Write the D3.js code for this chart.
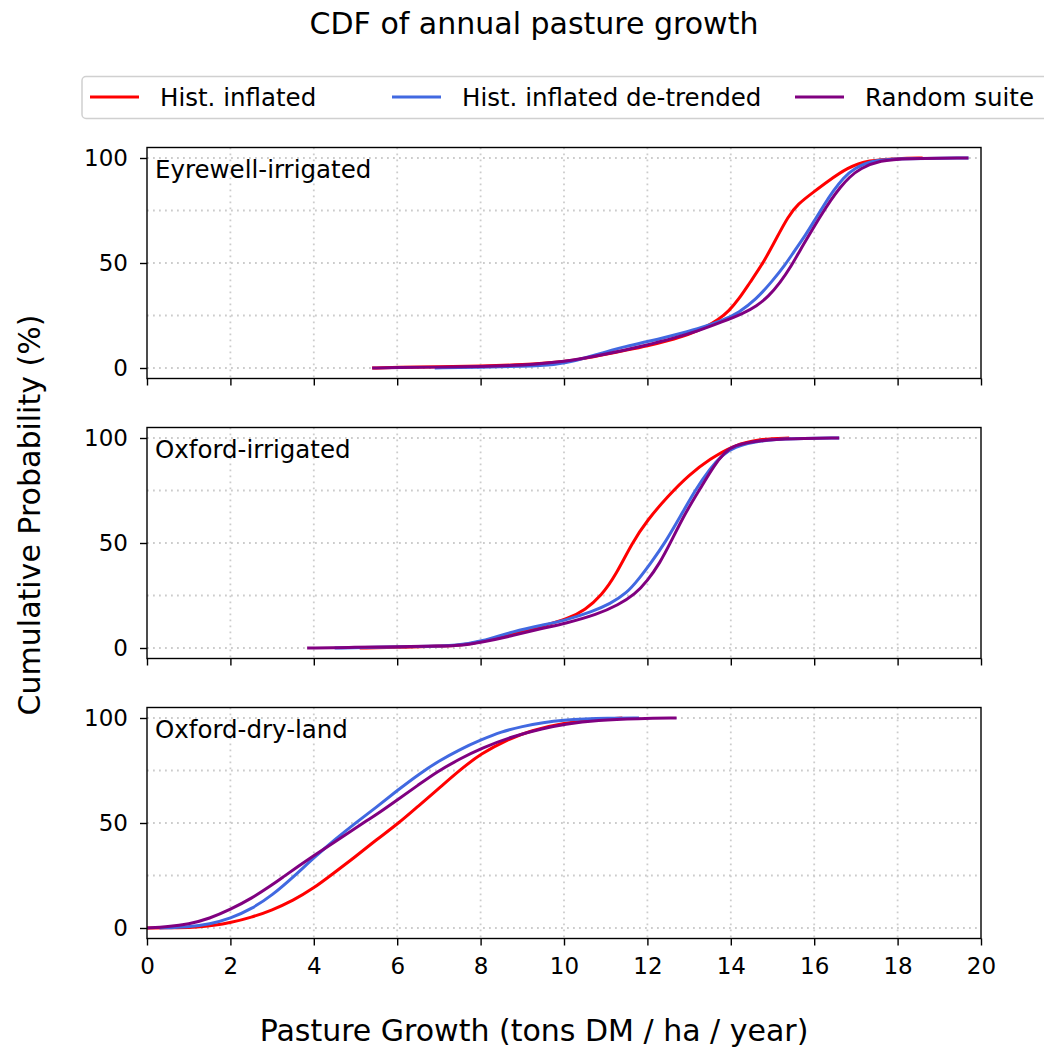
<!DOCTYPE html>
<html>
<head>
<meta charset="utf-8">
<script src="https://cdn.jsdelivr.net/npm/d3@7"></script>
<style>
  html, body { margin: 0; padding: 0; background: #fff; }
  svg { display: block; font-family: "DejaVu Sans", sans-serif; }
</style>
</head>
<body>
<svg id="chart" width="1044" height="1056"></svg>
<script>
// Pasture growth (t DM/ha/yr) vs cumulative probability (%), per site and series
const sites = ["Eyrewell-irrigated", "Oxford-irrigated", "Oxford-dry-land"];
const seriesNames = ["Hist. inflated", "Hist. inflated de-trended", "Random suite"];
const seriesColors = ["#ff0000", "#4169e1", "#800080"];

const eyrewellHist = [[5.4,0],[6,0.3],[7,0.6],[8,0.9],[9,1.5],[10,3],[10.5,4.5],[11,6.5],[11.5,8.5],[12,10.5],[12.5,13],[13,16],[13.4,19.5],[13.7,23],[13.95,27],[14.2,33],[14.45,40.5],[14.78,50],[15.1,62],[15.37,72],[15.6,78],[16,84],[16.3,88.5],[16.8,95.5],[17.3,99],[18,99.8],[18.6,100]];
const eyrewellDetrended = [[6.9,0],[8,0.4],[9,0.8],[9.8,1.5],[10.3,3.5],[10.8,6.5],[11.4,10],[12,12.5],[12.6,15.5],[13.2,18.5],[13.8,22.5],[14.2,26.5],[14.6,32.5],[15.0,41.5],[15.3,49],[15.5,55],[15.8,63.5],[16,70],[16.23,77.5],[16.46,84.5],[16.7,90.5],[16.94,95],[17.42,99],[18,99.7],[19.7,100]];
const eyrewellRandom = [[5.4,0],[6,0.2],[7,0.4],[8,0.7],[9,1.3],[10,2.8],[11,6.5],[12,11],[12.6,14],[13.2,17.5],[13.8,22],[14.3,26],[14.62,29.5],[14.9,34],[15.18,40.5],[15.45,48.5],[15.66,56],[15.9,64],[16.14,72],[16.4,80],[16.62,86],[16.85,91],[17.1,95],[17.58,99],[18.2,99.8],[19.7,100]];

const oxfordIrrHist = [[5.1,0],[6,0.3],[7,0.8],[7.5,1.3],[8,2.8],[8.8,7],[9.5,10.5],[10.1,14],[10.5,18],[10.9,25],[11.25,35],[11.63,50],[12.0,61],[12.5,72.5],[13.0,82.5],[13.5,90],[14.06,96.5],[14.7,99.6],[15.4,100]];
const oxfordIrrDetrended = [[4.5,0],[5.5,0.3],[6.5,0.6],[7.5,1.3],[8,3],[8.8,8],[9.5,11],[10,13],[10.7,17.5],[11.1,21],[11.5,26],[11.8,33],[12.1,41],[12.42,50],[12.8,63],[13.14,75],[13.5,85.5],[13.8,92],[14.06,95.5],[14.7,99],[15.5,99.7],[16.6,100]];
const oxfordIrrRandom = [[3.84,0],[5,0.3],[6,0.6],[7,0.9],[7.6,1.3],[8,2.6],[8.8,6],[9.5,9.5],[10,11.5],[10.8,16],[11.3,20.5],[11.7,25.5],[12.0,32],[12.3,40.5],[12.55,50],[12.9,64],[13.27,76],[13.6,87],[13.85,93],[14.06,96.5],[14.7,99],[15.5,99.7],[16.6,100]];

const dryHist = [[0,0],[0.8,0.1],[1.2,0.4],[1.6,1.2],[2,2.5],[2.5,5],[3,8.5],[3.5,13],[4,19],[4.4,25],[5,34],[5.5,42],[6.04,50],[6.5,58],[7,66.5],[7.49,75],[8,83],[8.67,90],[9.2,94],[10,97.7],[10.8,99.3],[11.4,100]];
const dryDetrended = [[0.3,0],[1,0.5],[1.5,1.8],[2,4.5],[2.5,9],[3,15.5],[3.55,25],[4,33.5],[4.5,42],[5,50],[5.5,57.5],[6,65.5],[6.57,74],[7,79.5],[7.5,85],[8,89.5],[8.5,93.5],[9,96],[9.5,97.8],[10,99],[10.5,99.6],[11,99.9],[11.8,100]];
const dryRandom = [[0,0],[0.5,0.6],[1,1.8],[1.5,4.5],[2,8.8],[2.5,14],[3,20.5],[3.28,24.5],[3.6,29],[4,34.5],[4.5,41],[5,47.5],[5.26,51],[5.5,54],[6,61],[6.5,68],[6.96,74.5],[7.5,80.5],[8,85.5],[8.8,91.5],[9.5,95],[10,97],[10.8,99],[11.8,99.8],[12.7,100]];

const siteData = [
  [eyrewellHist, eyrewellDetrended, eyrewellRandom],
  [oxfordIrrHist, oxfordIrrDetrended, oxfordIrrRandom],
  [dryHist, dryDetrended, dryRandom]
];

const xTicks = [0, 2, 4, 6, 8, 10, 12, 14, 16, 18, 20];
const yTicks = [0, 50, 100];
const yGrid = [0, 25, 50, 75, 100];

const svg = d3.select("#chart");
const left = 147, right = 981;
const panelTops = [147.5, 427.5, 707.5];
const panelH = 231;

const x = d3.scaleLinear().domain([0, 20]).range([left, right]);

// Title
svg.append("text").attr("x", 534).attr("y", 34).attr("text-anchor", "middle")
  .attr("font-size", 30).attr("fill", "#000").text("CDF of annual pasture growth");

// Legend
const lg = svg.append("g");
lg.append("rect").attr("x", 82).attr("y", 76.5).attr("width", 1000).attr("height", 42)
  .attr("rx", 4).attr("fill", "#fff").attr("stroke", "#d0d0d0").attr("stroke-width", 1.5);
const legendX = [90, 392, 795];
seriesNames.forEach((name, i) => {
  lg.append("line").attr("x1", legendX[i]).attr("x2", legendX[i] + 49)
    .attr("y1", 97).attr("y2", 97).attr("stroke", seriesColors[i]).attr("stroke-width", 3);
  lg.append("text").attr("x", legendX[i] + 70).attr("y", 106)
    .attr("font-size", 24.5).attr("fill", "#000").text(name);
});

// Smooth B-spline through the sampled CDF points
const line = d3.line().curve(d3.curveBasis);

sites.forEach((site, p) => {
  const top = panelTops[p];
  const y = d3.scaleLinear().domain([-5, 105]).range([top + panelH, top]);
  const g = svg.append("g");

  // Dotted grid
  g.append("g").selectAll("line").data(yGrid).join("line")
    .attr("x1", left).attr("x2", right).attr("y1", d => y(d)).attr("y2", d => y(d))
    .attr("stroke", "#cccccc").attr("stroke-width", 1.8).attr("stroke-dasharray", "1.8,4.2");
  g.append("g").selectAll("line").data(xTicks.slice(1, -1)).join("line")
    .attr("x1", d => x(d)).attr("x2", d => x(d)).attr("y1", top).attr("y2", top + panelH)
    .attr("stroke", "#cccccc").attr("stroke-width", 1.8).attr("stroke-dasharray", "1.8,4.2");

  // Curves
  line.x(d => x(d[0])).y(d => y(d[1]));
  siteData[p].forEach((pts, i) => {
    g.append("path").attr("d", line(pts)).attr("fill", "none")
      .attr("stroke", seriesColors[i]).attr("stroke-width", 3)
      .attr("stroke-linejoin", "round").attr("stroke-linecap", "butt");
  });

  // Frame
  g.append("rect").attr("x", left).attr("y", top).attr("width", right - left).attr("height", panelH)
    .attr("fill", "none").attr("stroke", "#000").attr("stroke-width", 1.4);

  // Axes
  const yAxis = d3.axisLeft(y).tickValues(yTicks).tickSize(7).tickPadding(12).tickFormat(d3.format("d"));
  const ya = g.append("g").attr("transform", `translate(${left},0)`).call(yAxis);
  ya.select(".domain").remove();
  ya.selectAll("line").attr("stroke-width", 1.4);
  ya.selectAll("text").attr("font-size", 23).attr("font-family", "DejaVu Sans").attr("fill", "#000");

  const xAxis = d3.axisBottom(x).tickValues(xTicks).tickSize(7).tickPadding(12)
    .tickFormat(p === 2 ? d3.format("d") : () => "");
  const xa = g.append("g").attr("transform", `translate(0,${top + panelH})`).call(xAxis);
  xa.select(".domain").remove();
  xa.selectAll("line").attr("stroke-width", 1.4);
  xa.selectAll("text").attr("font-size", 23).attr("font-family", "DejaVu Sans").attr("fill", "#000");

  // Site label
  g.append("text").attr("x", 155).attr("y", top + 30).attr("font-size", 24.5)
    .attr("fill", "#000").text(site);
});

// Axis titles
svg.append("text").attr("x", 534).attr("y", 1041).attr("text-anchor", "middle")
  .attr("font-size", 30).attr("fill", "#000").text("Pasture Growth (tons DM / ha / year)");
svg.append("text").attr("transform", "translate(40,515) rotate(-90)").attr("text-anchor", "middle")
  .attr("font-size", 30).attr("fill", "#000").text("Cumulative Probability (%)");
</script>
</body>
</html>
